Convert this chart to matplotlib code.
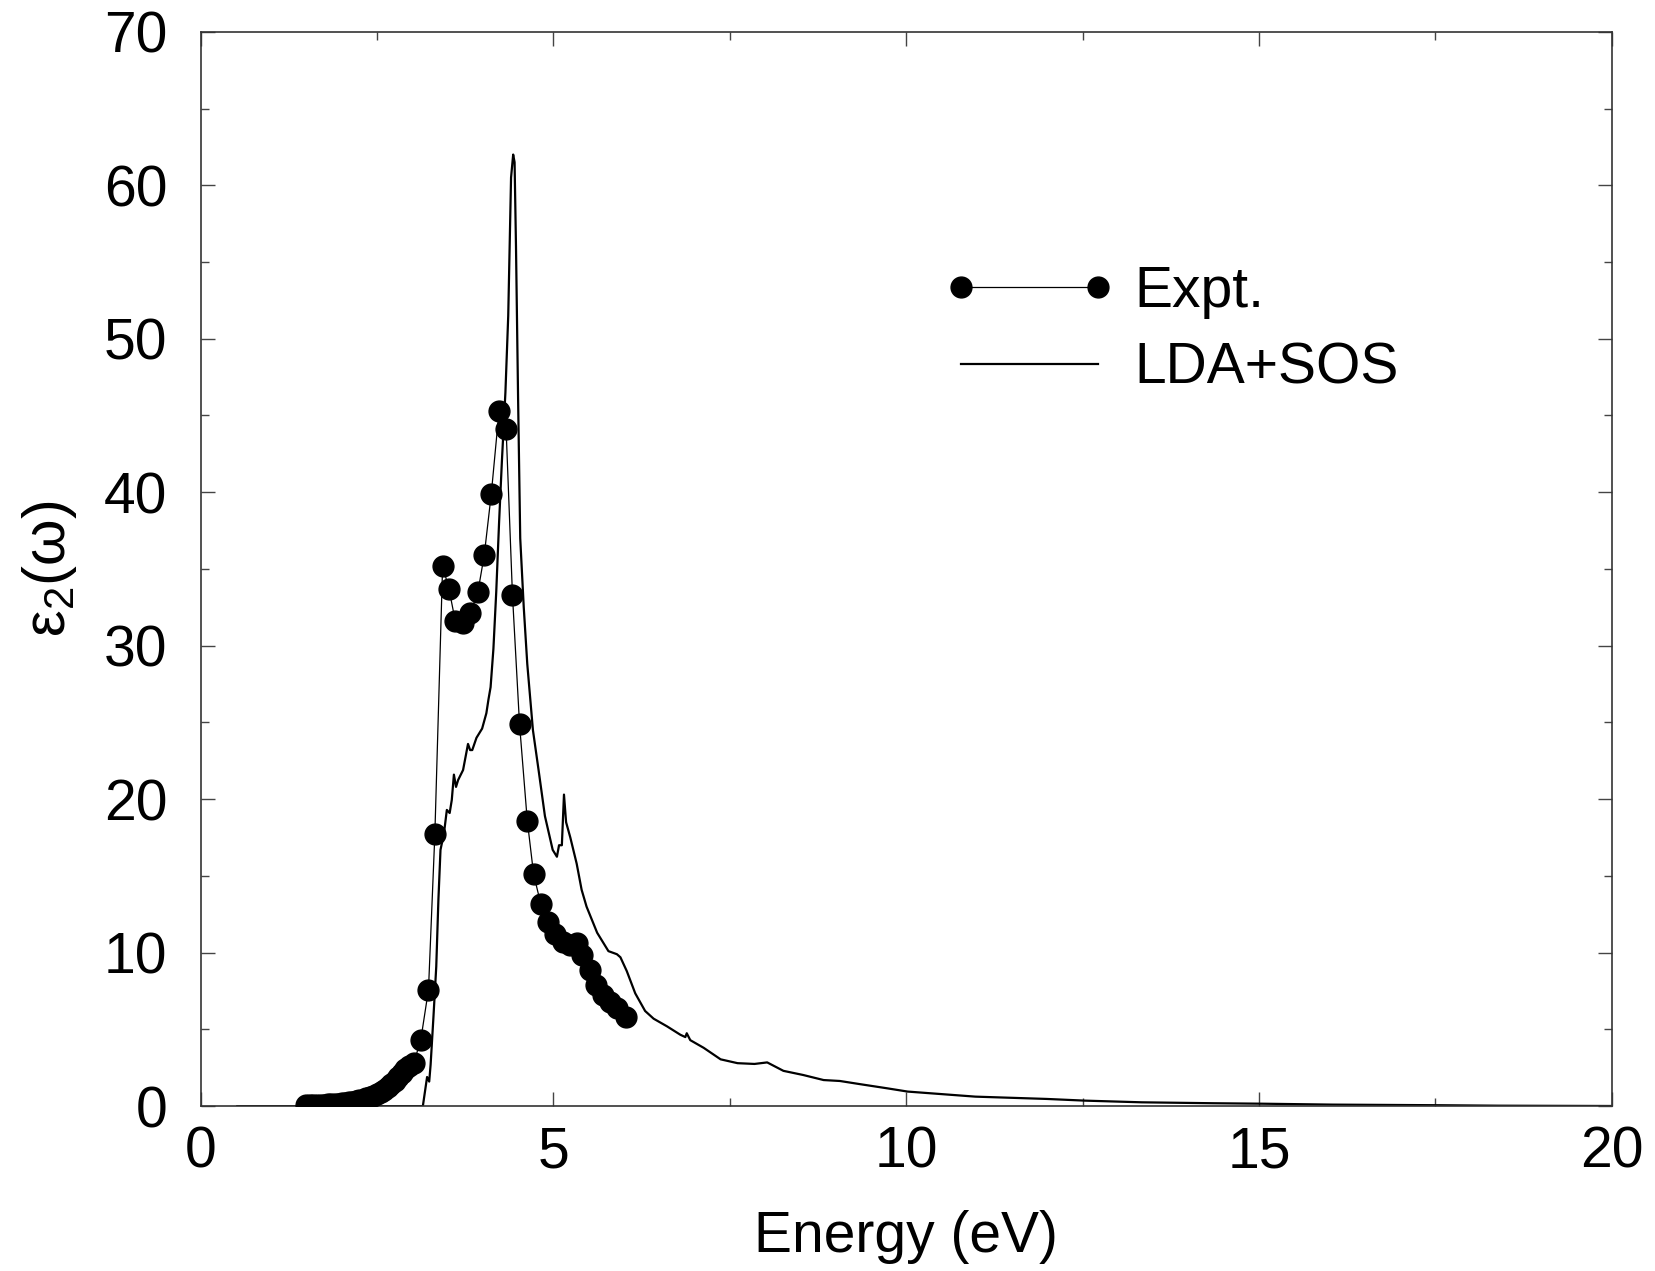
import matplotlib
matplotlib.use("Agg")
import matplotlib.pyplot as plt
from matplotlib.ticker import MultipleLocator

plt.rcParams['font.family'] = ['Liberation Sans', 'DejaVu Sans']
plt.rcParams['mathtext.fontset'] = 'custom'
plt.rcParams['mathtext.rm'] = 'Liberation Sans'
plt.rcParams['mathtext.it'] = 'Liberation Sans'

# Experimental data
expt_x = [1.50, 1.55, 1.60, 1.65, 1.70, 1.75, 1.80, 1.85, 1.90, 1.95,
          2.00, 2.05, 2.10, 2.15, 2.20, 2.25, 2.30, 2.35, 2.40, 2.45,
          2.50, 2.55, 2.60, 2.65, 2.70, 2.75, 2.80, 2.85, 2.90, 2.95,
          3.02, 3.12, 3.23, 3.32, 3.43, 3.52, 3.61, 3.72, 3.82, 3.93,
          4.02, 4.12, 4.23, 4.33, 4.42, 4.52, 4.63, 4.72, 4.82, 4.92,
          5.02, 5.13, 5.23, 5.34, 5.41, 5.52, 5.61, 5.71, 5.80, 5.90, 6.03]
expt_y = [0.05, 0.06, 0.07, 0.08, 0.09, 0.10, 0.11, 0.12, 0.14, 0.16,
          0.18, 0.21, 0.24, 0.28, 0.32, 0.37, 0.43, 0.50, 0.58, 0.67,
          0.78, 0.90, 1.05, 1.22, 1.42, 1.65, 1.90, 2.15, 2.40, 2.60,
          2.80, 4.30, 7.60, 17.7, 35.2, 33.7, 31.6, 31.5, 32.1, 33.5,
          35.9, 39.9, 45.3, 44.1, 33.3, 24.9, 18.6, 15.1, 13.2, 12.0,
          11.2, 10.7, 10.5, 10.6, 9.85, 8.87, 7.9, 7.24, 6.8, 6.38, 5.83]

# LDA+SOS calculation
lda_x = [0.52, 3.15, 3.21, 3.24, 3.26, 3.30, 3.34, 3.37, 3.40, 3.45,
         3.49, 3.53, 3.56, 3.59, 3.62, 3.65, 3.72, 3.79, 3.82, 3.85,
         3.91, 3.99, 4.05, 4.08, 4.11, 4.15, 4.19, 4.23, 4.27, 4.32,
         4.36, 4.40, 4.43, 4.45, 4.47, 4.50, 4.53, 4.58, 4.63, 4.71,
         4.79, 4.88, 4.99, 5.05, 5.08, 5.12, 5.15, 5.18, 5.24, 5.33,
         5.40, 5.47, 5.62, 5.78, 5.90, 5.95, 6.04, 6.16, 6.30, 6.42,
         6.61, 6.80, 6.87, 6.89, 6.94, 7.13, 7.37, 7.61, 7.85, 8.03,
         8.26, 8.54, 8.83, 9.06, 9.35, 9.72, 10.02, 10.98, 11.99, 12.53,
         13.34, 14.35, 15.04, 16.04, 17.57, 18.40, 20.00]
lda_y = [0.0, 0.0, 1.9, 1.6, 2.7, 5.8, 9.1, 13.4, 16.7, 17.8,
         19.3, 19.1, 19.95, 21.6, 20.8, 21.25, 21.9, 23.6, 23.2, 23.2,
         24.0, 24.6, 25.6, 26.5, 27.3, 29.8, 33.5, 38.0, 42.0, 46.5,
         51.5, 60.5, 62.0, 61.5, 56.0, 46.0, 37.0, 32.5, 28.8, 24.5,
         21.9, 18.9, 16.7, 16.25, 17.0, 17.0, 20.3, 18.5, 17.5, 15.8,
         14.1, 13.0, 11.3, 10.1, 9.9, 9.7, 8.8, 7.35, 6.2, 5.7,
         5.2, 4.65, 4.5, 4.75, 4.3, 3.8, 3.05, 2.8, 2.75, 2.85,
         2.3, 2.03, 1.7, 1.64, 1.43, 1.17, 0.95, 0.62, 0.47, 0.36,
         0.25, 0.19, 0.16, 0.10, 0.06, 0.03, 0.01]

fig = plt.figure(figsize=(16.55, 12.71), dpi=100)
ax = fig.add_axes([0.1212, 0.1297, 0.8527, 0.8453])

ax.plot(expt_x, expt_y, '-', color='black', lw=0.9, marker='o',
        markersize=15, markerfacecolor='black', markeredgecolor='black',
        label='Expt.', zorder=3)
ax.plot(lda_x, lda_y, '-', color='black', lw=1.6, label='LDA+SOS', zorder=2)

ax.set_xlim(0, 20)
ax.set_ylim(0, 70)
ax.xaxis.set_major_locator(MultipleLocator(5))
ax.xaxis.set_minor_locator(MultipleLocator(2.5))
ax.yaxis.set_major_locator(MultipleLocator(10))
ax.yaxis.set_minor_locator(MultipleLocator(5))
ax.tick_params(which='both', direction='in', top=True, right=True,
               width=1.0, color='#444444')
ax.tick_params(which='major', length=10)
ax.tick_params(which='minor', length=5.5)
ax.tick_params(axis='x', which='major', labelsize=41, pad=14)
ax.tick_params(axis='y', which='major', labelsize=41, pad=24)
for s in ax.spines.values():
    s.set_linewidth(1.2)
    s.set_color('#333333')

ax.set_xlabel('Energy (eV)', fontsize=41, labelpad=22)
ax.set_ylabel(r'ε$_2$(ω)', fontsize=43, labelpad=18)

leg = ax.legend(loc='upper left', bbox_to_anchor=(0.527, 0.783), frameon=False,
                fontsize=41, numpoints=2, handlelength=3.0,
                handletextpad=0.33, labelspacing=0.4, borderpad=0,
                borderaxespad=0)

fig.savefig('out.png', dpi=100)
